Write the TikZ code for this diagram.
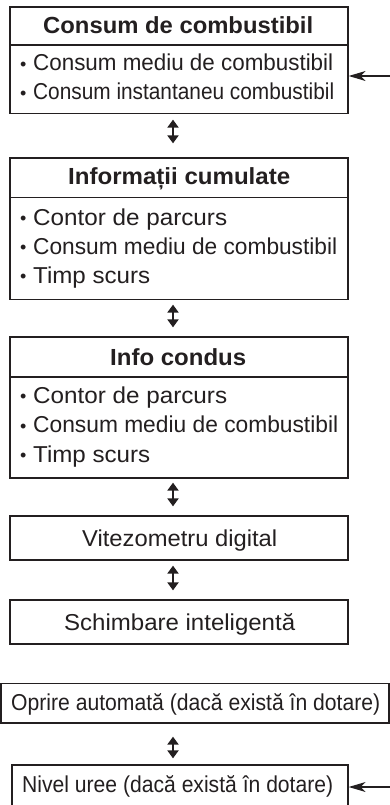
\documentclass[tikz,border=0pt]{standalone}
\usepackage{fontspec}
\setmainfont{Liberation Sans}
\usetikzlibrary{arrows.meta}
\definecolor{ink}{HTML}{231F20}
\newsavebox\fwbox
\newcommand\fw[2]{\sbox\fwbox{#2}\scalebox{\fpeval{#1/(\the\wd\fwbox)}}[1]{\usebox\fwbox}}
\newcommand\bul{\makebox[13pt][l]{\raisebox{0.5pt}{\fontsize{18}{18}\selectfont\textbullet}}}
\begin{document}
\begin{tikzpicture}[x=1pt,y=-1pt,
  box/.style={draw=ink, line width=1.3pt, inner sep=0pt, minimum width=338pt},
  txt/.style={anchor=base west, inner sep=0pt, text=ink, font=\fontsize{23}{23}\selectfont},
  ttl/.style={txt, font=\bfseries\fontsize{23.3}{23.3}\selectfont},
  dbl/.style={{Triangle[length=8pt,width=11pt]}-{Triangle[length=8pt,width=11pt]}, line width=2.4pt, draw=ink},
  side/.style={-{Stealth[length=17pt,width=10pt,inset=5pt]}, line width=1.2pt, draw=ink},
  divider/.style={draw=ink, line width=1.3pt}]
\useasboundingbox (0,0) rectangle (390,805);
\fill[white] (0,0) rectangle (390,805);
% boxes
\node[box, minimum height=106.5pt] (b1) at (179,60.25) {};
\node[box, minimum height=141.5pt] (b2) at (179,228.75) {};
\node[box, minimum height=141pt] (b3) at (179,407.5) {};
\node[box, minimum height=44pt] (b4) at (179,538) {};
\node[box, minimum height=44pt] (b5) at (179,622) {};
\node[box, minimum height=39.5pt, minimum width=388pt] (b6) at (195,703.25) {};
\node[box, minimum height=50pt, minimum width=336pt] (b7) at (180,790) {};
% dividers
\draw[divider] (b1.west |- 0,45) -- (b1.east |- 0,45);
\draw[divider] (b2.west |- 0,197.5) -- (b2.east |- 0,197.5);
\draw[divider] (b3.west |- 0,377) -- (b3.east |- 0,377);
% texts box 1
\node[ttl] (t1) at (43,34) {\fw{270}{Consum de combustibil}};
\node[txt] (t1a) at (20,71) {\bul\fw{300}{Consum mediu de combustibil}};
\node[txt] (t1b) at (20,100) {\bul\fw{301}{Consum instantaneu combustibil}};
% box 2
\node[ttl] (t2) at (68,185) {\fw{222}{Informații cumulate}};
\node[txt] (t2a) at (20,225) {\bul\fw{194}{Contor de parcurs}};
\node[txt] (t2b) at (20,254) {\bul\fw{304}{Consum mediu de combustibil}};
\node[txt] (t2c) at (20,283) {\bul\fw{117}{Timp scurs}};
% box 3
\node[ttl] (t3) at (110,365) {\fw{136}{Info condus}};
\node[txt] (t3a) at (20,403) {\bul\fw{194}{Contor de parcurs}};
\node[txt] (t3b) at (20,432.5) {\bul\fw{305}{Consum mediu de combustibil}};
\node[txt] (t3c) at (20,462) {\bul\fw{117}{Timp scurs}};
% single boxes
\node[txt] (t4) at (82,546) {\fw{195}{Vitezometru digital}};
\node[txt] (t5) at (64,630) {\fw{231}{Schimbare inteligentă}};
\node[txt] (t6) at (11,710) {\fw{369}{Oprire automată (dacă există în dotare)}};
\node[txt] (t7) at (22,792) {\fw{311}{Nivel uree (dacă există în dotare)}};
% double arrows
\coordinate (ax) at (173,0);
\draw[dbl, shorten <=5.5pt, shorten >=14pt] (b1.south -| ax) -- (b2.north -| ax);
\draw[dbl, shorten <=4.5pt, shorten >=9pt] (b2.south -| ax) -- (b3.north -| ax);
\draw[dbl, shorten <=4pt, shorten >=9pt] (b3.south -| ax) -- (b4.north -| ax);
\draw[dbl, shorten <=5pt, shorten >=9pt] (b4.south -| ax) -- (b5.north -| ax);
\draw[dbl, shorten <=13pt, shorten >=6pt] (b6.south -| ax) -- (b7.north -| ax);
% side arrows
\coordinate (r1) at (392,76);
\coordinate (r7) at (392,787);
\draw[side] (r1) -- (r1 -| b1.east);
\draw[side] (r7) -- (r7 -| b7.east);
\end{tikzpicture}
\end{document}
